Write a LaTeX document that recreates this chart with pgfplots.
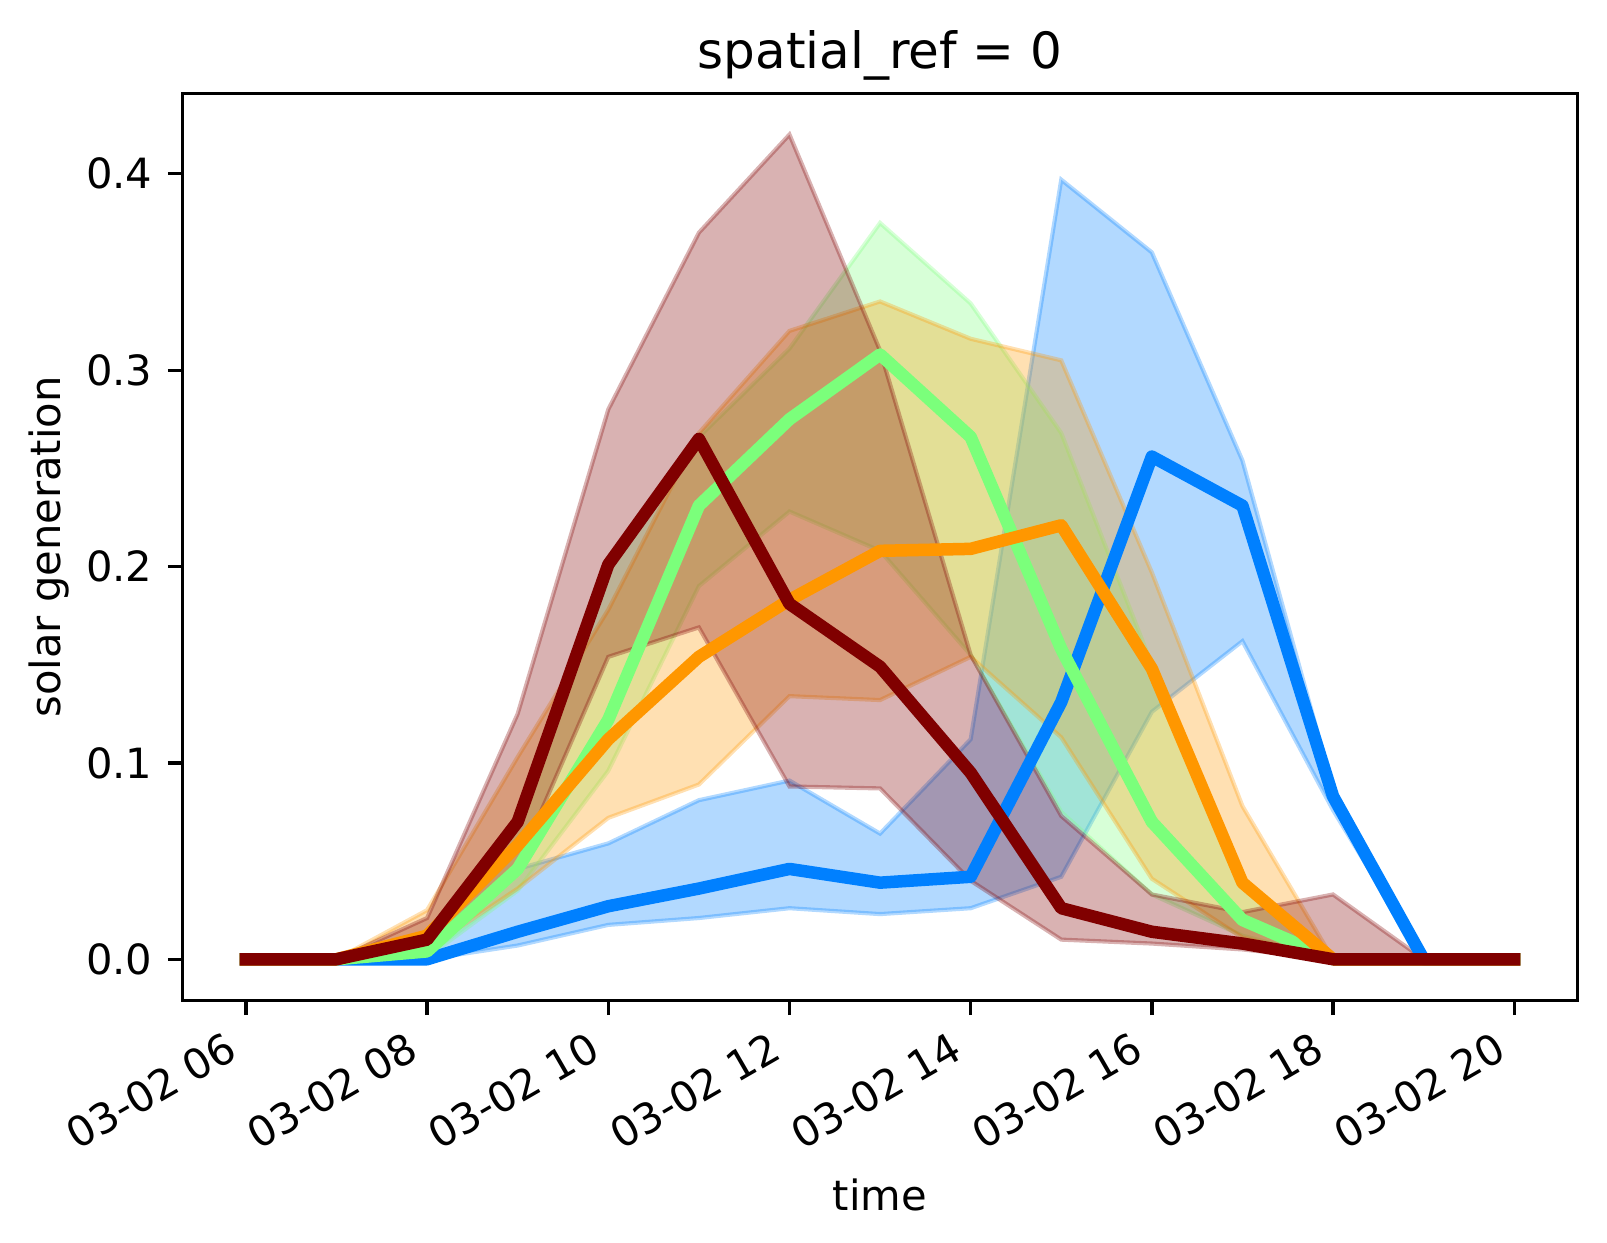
\documentclass[border=0pt]{standalone}
\usepackage{fontspec}
\setmainfont{DejaVu Sans}
\usepackage{pgfplots}
\usepackage{pgfplotstable}
\pgfplotsset{compat=1.18}
\usepgfplotslibrary{fillbetween}

\definecolor{cB}{RGB}{0,128,255}
\definecolor{cG}{RGB}{123,255,123}
\definecolor{cO}{RGB}{255,151,0}
\definecolor{cR}{RGB}{128,0,0}

\pgfplotstableread{
h m lo hi
6 0 0 0
7 0 0 0
8 0 0 0.002
9 0.014 0.007 0.046
10 0.027 0.0175 0.059
11 0.036 0.021 0.081
12 0.046 0.026 0.091
13 0.039 0.023 0.064
14 0.042 0.026 0.112
15 0.131 0.042 0.397
16 0.256 0.126 0.360
17 0.231 0.162 0.254
18 0.083 0.076 0.087
19 0 0 0
20 0 0 0
}\tblB

\pgfplotstableread{
h m lo hi
6 0 0 0
7 0 0 0
8 0.004 0.001 0.010
9 0.046 0.035 0.070
10 0.122 0.096 0.200
11 0.231 0.190 0.266
12 0.275 0.228 0.311
13 0.308 0.208 0.375
14 0.266 0.155 0.334
15 0.158 0.075 0.268
16 0.070 0.033 0.150
17 0.020 0.012 0.040
18 0 0 0
19 0 0 0
20 0 0 0
}\tblG

\pgfplotstableread{
h m lo hi
6 0 0 0
7 0 0 0
8 0.012 0.005 0.025
9 0.058 0.036 0.103
10 0.112 0.072 0.178
11 0.154 0.089 0.268
12 0.183 0.134 0.320
13 0.208 0.132 0.335
14 0.209 0.154 0.316
15 0.221 0.113 0.305
16 0.148 0.041 0.197
17 0.039 0.011 0.078
18 0 0 0
19 0 0 0
20 0 0 0
}\tblO

\pgfplotstableread{
h m lo hi
6 0 0 0
7 0 0 0
8 0.010 0.002 0.021
9 0.070 0.048 0.125
10 0.201 0.154 0.280
11 0.265 0.169 0.370
12 0.181 0.088 0.420
13 0.149 0.087 0.310
14 0.095 0.040 0.155
15 0.026 0.010 0.073
16 0.014 0.008 0.033
17 0.008 0.005 0.024
18 0 0 0.033
19 0 0 0
20 0 0 0
}\tblR

\begin{document}
\begin{tikzpicture}
\begin{axis}[
  name=ax,
  scale only axis,
  width=336.09pt, height=218.54pt,
  xmin=5.3, xmax=20.7, ymin=-0.021, ymax=0.441,
  axis line style={line width=0.8bp},
  tick align=outside,
  tick pos=left,
  major tick length=3.5bp,
  tick style={line width=0.8bp, black},
  xtick={6,8,10,12,14,16,18,20},
  xticklabels={03-02 06,03-02 08,03-02 10,03-02 12,03-02 14,03-02 16,03-02 18,03-02 20},
  ytick={0,0.1,0.2,0.3,0.4},
  minor tick num=0,
  every tick label/.append style={font=\fontsize{10bp}{12bp}\selectfont},
  yticklabel style={/pgf/number format/fixed, /pgf/number format/fixed zerofill,
    /pgf/number format/precision=1, /pgf/number format/assume math mode=true,
    anchor=east, inner sep=0pt, xshift=-3.52pt},
  xticklabel style={yshift=-12.21pt, rotate=30, anchor=south east, inner sep=0pt,
    text height=0.76em, text depth=0.24em},
]
% bands
\addplot[draw=none, name path=bH, forget plot] table[x=h,y=hi]{\tblB};
\addplot[draw=none, name path=bL, forget plot] table[x=h,y=lo]{\tblB};
\addplot[fill=cB, fill opacity=0.3, draw=cB, draw opacity=0.3, line width=1bp, forget plot] fill between[of=bH and bL];
\addplot[draw=none, name path=gH, forget plot] table[x=h,y=hi]{\tblG};
\addplot[draw=none, name path=gL, forget plot] table[x=h,y=lo]{\tblG};
\addplot[fill=cG, fill opacity=0.3, draw=cG, draw opacity=0.3, line width=1bp, forget plot] fill between[of=gH and gL];
\addplot[draw=none, name path=oH, forget plot] table[x=h,y=hi]{\tblO};
\addplot[draw=none, name path=oL, forget plot] table[x=h,y=lo]{\tblO};
\addplot[fill=cO, fill opacity=0.3, draw=cO, draw opacity=0.3, line width=1bp, forget plot] fill between[of=oH and oL];
\addplot[draw=none, name path=rH, forget plot] table[x=h,y=hi]{\tblR};
\addplot[draw=none, name path=rL, forget plot] table[x=h,y=lo]{\tblR};
\addplot[fill=cR, fill opacity=0.3, draw=cR, draw opacity=0.3, line width=1bp, forget plot] fill between[of=rH and rL];
% mean lines
\addplot[cB, line width=3bp, line cap=rect, line join=round, mark=none] table[x=h,y=m]{\tblB};
\addplot[cG, line width=3bp, line cap=rect, line join=round, mark=none] table[x=h,y=m]{\tblG};
\addplot[cO, line width=3bp, line cap=rect, line join=round, mark=none] table[x=h,y=m]{\tblO};
\addplot[cR, line width=3bp, line cap=rect, line join=round, mark=none] table[x=h,y=m]{\tblR};
\end{axis}
\node[anchor=base, inner sep=0pt, font=\fontsize{12bp}{14bp}\selectfont] at ([yshift=5.95pt]ax.north) {spatial\_ref = 0};
\node[anchor=base, inner sep=0pt, font=\fontsize{10bp}{12bp}\selectfont] at ([yshift=-50.71pt]ax.south) {time};
\node[rotate=90, anchor=base, inner sep=0pt, font=\fontsize{10bp}{12bp}\selectfont] at ([xshift=-29.27pt]ax.west) {solar generation};
\pgfresetboundingbox
\path[use as bounding box] ([shift={(-43.96pt,-58.42pt)}]ax.south west) rectangle ([shift={(7.08pt,22.48pt)}]ax.north east);
\end{tikzpicture}
\end{document}
